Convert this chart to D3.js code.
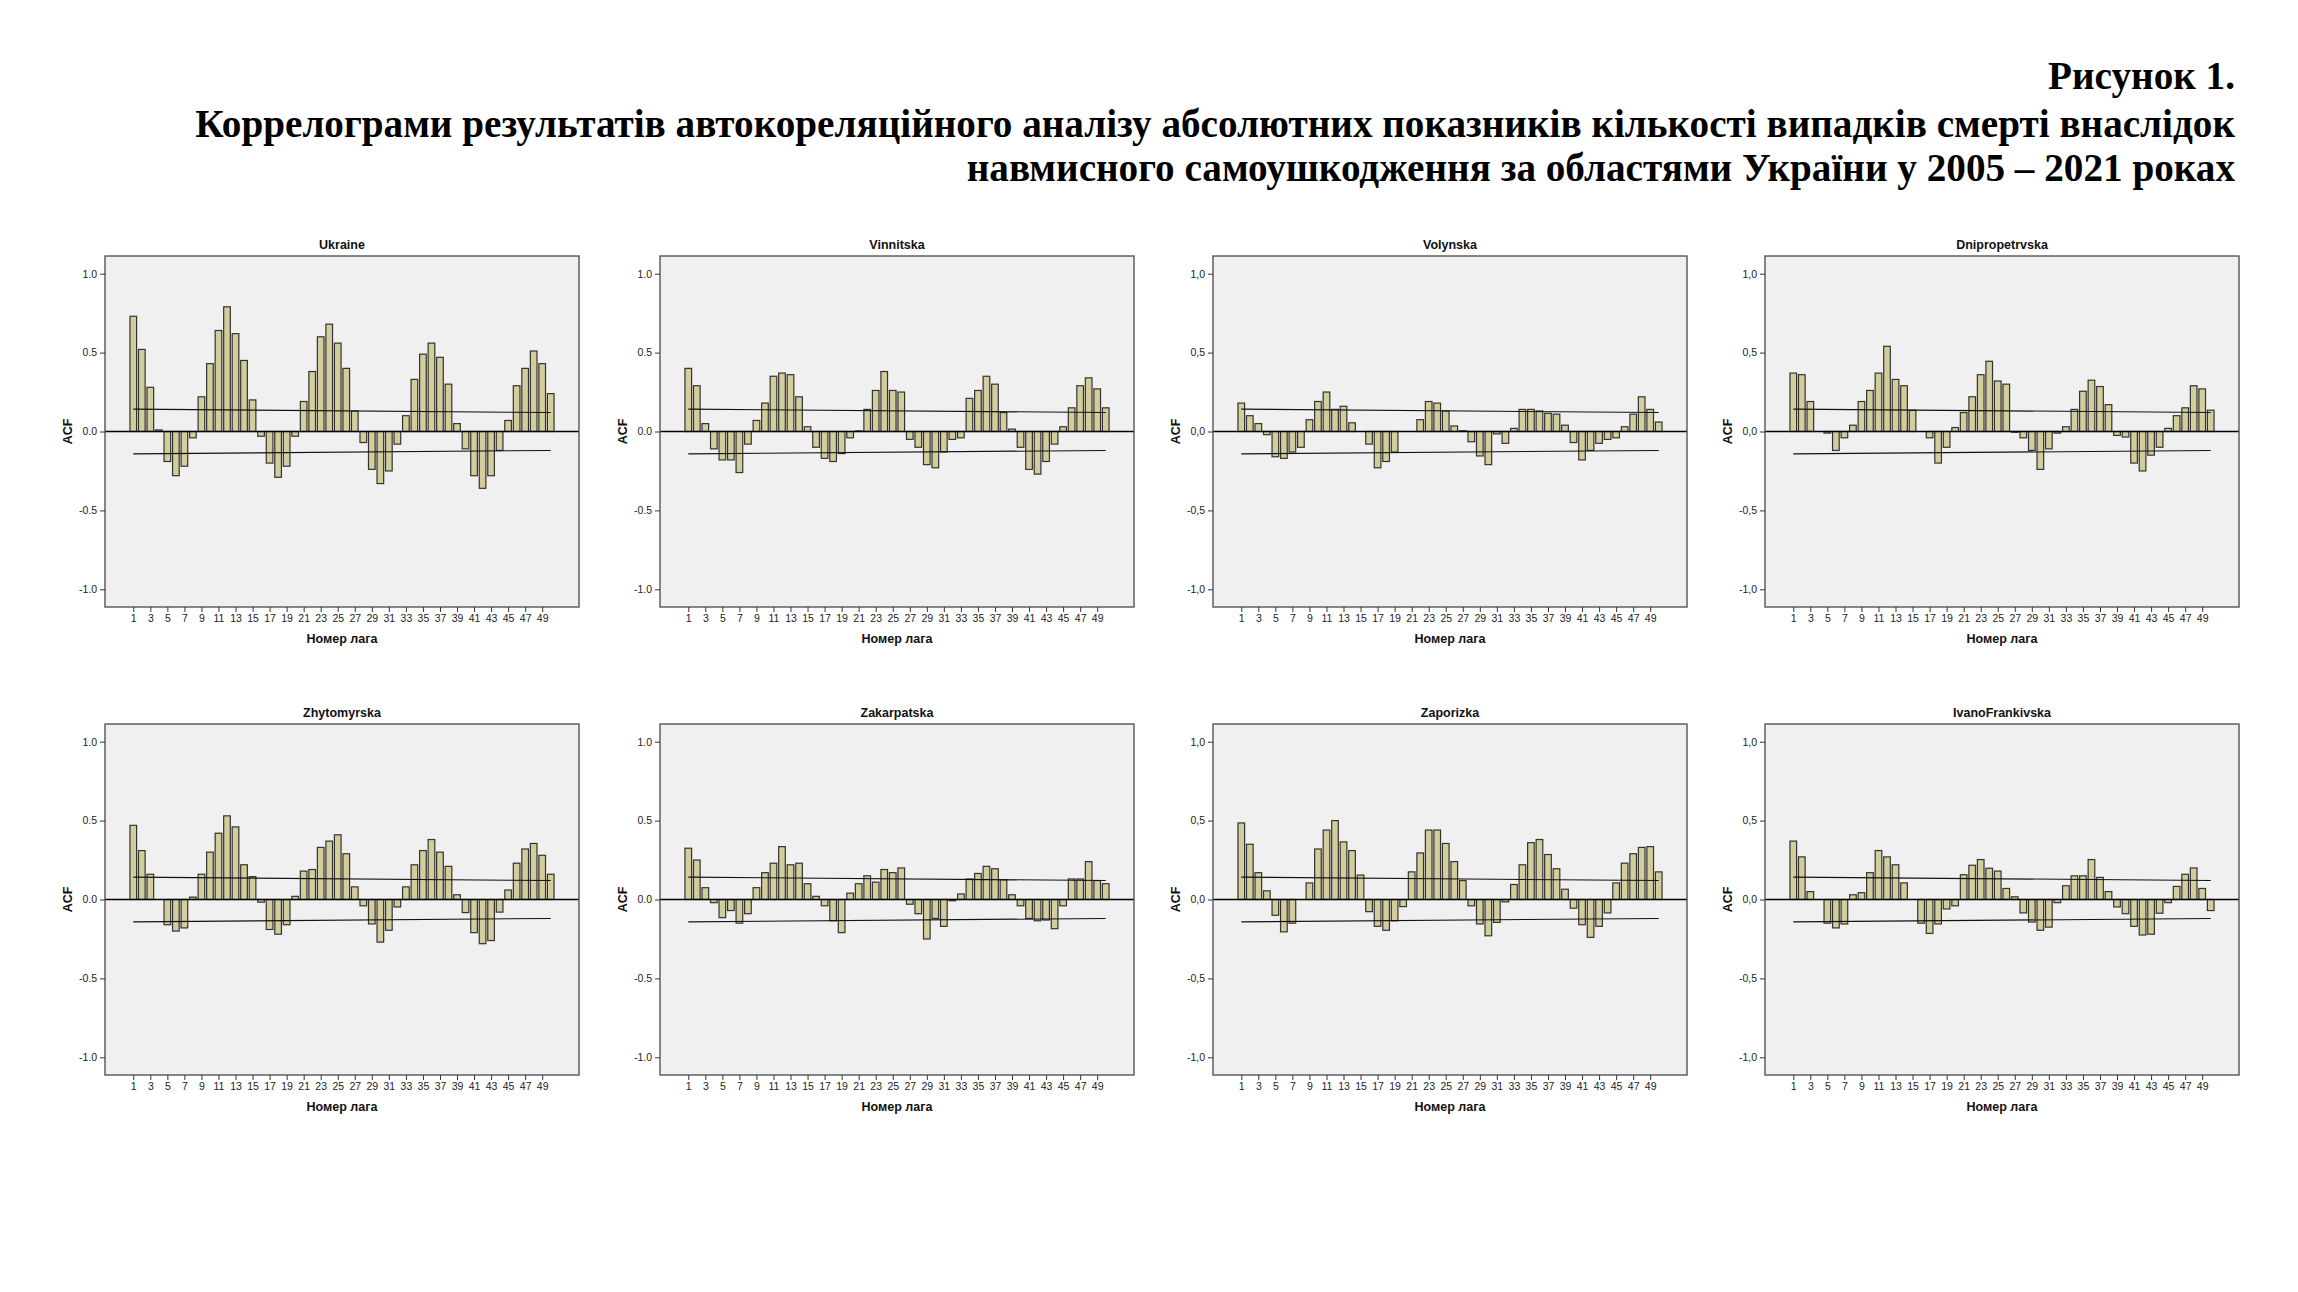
<!DOCTYPE html>
<html lang="uk">
<head>
<meta charset="UTF-8">
<title>Коррелограми ACF</title>
<style>
  body { margin: 0; background: #fff; }
  svg { display: block; }
  .title { font-family: "Liberation Serif", "Times New Roman", serif; font-weight: bold; fill: #000; }
  .ax text { font-family: "Liberation Sans", Arial, sans-serif; font-size: 10.5px; fill: #222; }
  .lbl { font-family: "Liberation Sans", Arial, sans-serif; font-weight: bold; font-size: 12.5px; fill: #111; }
</style>
<script src="https://cdn.jsdelivr.net/npm/d3@7/dist/d3.min.js"></script>
</head>
<body>
<svg id="chart" width="2298" height="1292"></svg>
<script>
// lags and tick labels
var lags = d3.range(1, 51);
var lagTicks = [1, 3, 5, 7, 9, 11, 13, 15, 17, 19, 21, 23, 25, 27, 29, 31, 33, 35, 37, 39, 41, 43, 45, 47, 49];
var yTicks = [-1, -0.5, 0, 0.5, 1];
var yLabelsDot = ["-1.0", "-0.5", "0.0", "0.5", "1.0"];
var yLabelsComma = ["-1,0", "-0,5", "0,0", "0,5", "1,0"];

// confidence limits at lag 1 and lag 50
var confLags = [1, 50];
var confUpper = [0.142, 0.120];
var confLower = [-0.142, -0.120];

// ACF values, lags 1..50
var acfUkraine = [0.73, 0.52, 0.28, 0.01, -0.19, -0.28, -0.22, -0.04, 0.22, 0.43,
  0.64, 0.79, 0.62, 0.45, 0.20, -0.03, -0.20, -0.29, -0.22, -0.03,
  0.19, 0.38, 0.60, 0.68, 0.56, 0.40, 0.13, -0.07, -0.24, -0.33,
  -0.25, -0.08, 0.10, 0.33, 0.49, 0.56, 0.47, 0.30, 0.05, -0.11,
  -0.28, -0.36, -0.28, -0.12, 0.07, 0.29, 0.40, 0.51, 0.43, 0.24];
var acfVinnitska = [0.40, 0.29, 0.05, -0.11, -0.18, -0.18, -0.26, -0.08, 0.07, 0.18,
  0.35, 0.37, 0.36, 0.22, 0.03, -0.10, -0.17, -0.19, -0.14, -0.04,
  0.004, 0.14, 0.26, 0.38, 0.26, 0.25, -0.05, -0.10, -0.21, -0.23,
  -0.13, -0.05, -0.04, 0.21, 0.26, 0.35, 0.30, 0.12, 0.015, -0.10,
  -0.24, -0.27, -0.19, -0.08, 0.03, 0.15, 0.29, 0.34, 0.27, 0.15];
var acfVolynska = [0.18, 0.10, 0.05, -0.02, -0.16, -0.17, -0.13, -0.10, 0.075, 0.19,
  0.25, 0.14, 0.16, 0.055, 0.0, -0.08, -0.23, -0.19, -0.13, 0.0,
  0.0, 0.075, 0.19, 0.18, 0.13, 0.035, 0.005, -0.065, -0.155, -0.21,
  -0.015, -0.075, 0.02, 0.14, 0.14, 0.13, 0.115, 0.11, 0.04, -0.07,
  -0.18, -0.12, -0.075, -0.05, -0.04, 0.03, 0.11, 0.22, 0.14, 0.06];
var acfDnipro = [0.37, 0.36, 0.19, 0.0, -0.01, -0.12, -0.04, 0.04, 0.19, 0.26,
  0.37, 0.54, 0.33, 0.29, 0.135, 0.0, -0.04, -0.20, -0.10, 0.025,
  0.12, 0.22, 0.36, 0.445, 0.32, 0.30, -0.005, -0.04, -0.12, -0.24,
  -0.11, -0.01, 0.03, 0.14, 0.255, 0.325, 0.285, 0.17, -0.025, -0.035,
  -0.20, -0.25, -0.15, -0.10, 0.02, 0.10, 0.15, 0.29, 0.27, 0.135];
var acfZhytomyr = [0.47, 0.31, 0.16, 0.0, -0.16, -0.20, -0.18, 0.015, 0.16, 0.30,
  0.42, 0.53, 0.46, 0.22, 0.145, -0.017, -0.19, -0.22, -0.16, 0.02,
  0.18, 0.19, 0.33, 0.37, 0.41, 0.29, 0.08, -0.04, -0.155, -0.27,
  -0.195, -0.047, 0.08, 0.22, 0.31, 0.38, 0.30, 0.21, 0.03, -0.083,
  -0.21, -0.28, -0.26, -0.08, 0.06, 0.23, 0.32, 0.355, 0.28, 0.16];
var acfZakarpattia = [0.325, 0.25, 0.075, -0.02, -0.115, -0.07, -0.15, -0.09, 0.075, 0.17,
  0.23, 0.335, 0.22, 0.23, 0.10, 0.02, -0.04, -0.135, -0.21, 0.04,
  0.10, 0.15, 0.11, 0.19, 0.17, 0.20, -0.03, -0.09, -0.25, -0.12,
  -0.17, -0.008, 0.035, 0.13, 0.165, 0.21, 0.195, 0.125, 0.03, -0.04,
  -0.12, -0.135, -0.13, -0.185, -0.04, 0.13, 0.13, 0.24, 0.12, 0.10];
var acfZaporizka = [0.485, 0.35, 0.17, 0.055, -0.10, -0.205, -0.15, 0.0, 0.105, 0.32,
  0.44, 0.50, 0.365, 0.31, 0.155, -0.077, -0.17, -0.195, -0.135, -0.045,
  0.175, 0.295, 0.44, 0.44, 0.355, 0.24, 0.12, -0.04, -0.155, -0.23,
  -0.145, -0.015, 0.095, 0.22, 0.36, 0.38, 0.285, 0.195, 0.065, -0.055,
  -0.16, -0.24, -0.17, -0.085, 0.105, 0.23, 0.29, 0.33, 0.335, 0.175];
var acfIvanoFrankivsk = [0.37, 0.27, 0.05, 0.0, -0.15, -0.18, -0.155, 0.03, 0.043, 0.17,
  0.31, 0.27, 0.22, 0.105, 0.0, -0.15, -0.215, -0.155, -0.06, -0.04,
  0.157, 0.217, 0.253, 0.198, 0.18, 0.07, 0.017, -0.085, -0.143, -0.195,
  -0.175, -0.02, 0.087, 0.15, 0.15, 0.253, 0.14, 0.05, -0.047, -0.09,
  -0.17, -0.225, -0.22, -0.087, -0.02, 0.083, 0.16, 0.20, 0.07, -0.07];

var panels = [
  { name: "Ukraine", acf: acfUkraine, labels: yLabelsDot },
  { name: "Vinnitska", acf: acfVinnitska, labels: yLabelsDot },
  { name: "Volynska", acf: acfVolynska, labels: yLabelsComma },
  { name: "Dnipropetrvska", acf: acfDnipro, labels: yLabelsComma },
  { name: "Zhytomyrska", acf: acfZhytomyr, labels: yLabelsDot },
  { name: "Zakarpatska", acf: acfZakarpattia, labels: yLabelsDot },
  { name: "Zaporizka", acf: acfZaporizka, labels: yLabelsComma },
  { name: "IvanoFrankivska", acf: acfIvanoFrankivsk, labels: yLabelsComma }
];

var svg = d3.select("#chart");

// heading, right aligned
var heading = ["Рисунок 1.",
  "Коррелограми результатів автокореляційного аналізу абсолютних показників кількості випадків смерті внаслідок",
  "навмисного самоушкодження за областями України у 2005 – 2021 роках"];
var headY = [89, 137, 181];
var head = svg.selectAll("text.title").data(heading).enter().append("text")
  .attr("class", "title")
  .attr("x", 2235).attr("y", function(d, i) { return headY[i]; })
  .attr("text-anchor", "end")
  .style("font-size", "100px")
  .text(function(d) { return d; });
// fit the long line to its width in the figure
var fs = 100 * 2040 / head.nodes()[1].getComputedTextLength();
head.style("font-size", fs + "px");

var colX = [105, 660, 1213, 1765];
var rowY = [256, 724];
var W = 474, H = 351;

panels.forEach(function(p, i) {
  var g = svg.append("g")
    .attr("transform", "translate(" + colX[i % 4] + "," + rowY[Math.floor(i / 4)] + ")");

  var x = d3.scaleLinear().domain([-2.32, 53.32]).range([0, W]);
  var y = d3.scaleLinear().domain([-1.112, 1.112]).range([H, 0]);
  var bw = (x(2) - x(1)) * 0.78;

  g.append("rect").attr("width", W).attr("height", H)
    .attr("fill", "#f0f0f0");

  g.selectAll("rect.bar").data(p.acf).enter().append("rect")
    .attr("class", "bar")
    .attr("x", function(d, k) { return x(lags[k]) - bw / 2; })
    .attr("y", function(d) { return y(Math.max(0, d)); })
    .attr("width", bw)
    .attr("height", function(d) { return Math.abs(y(d) - y(0)); })
    .attr("fill", "#d3cd9b")
    .attr("stroke", "#333")
    .attr("stroke-width", 1.2);

  // zero line
  g.append("line")
    .attr("x1", 0).attr("x2", W)
    .attr("y1", y(0)).attr("y2", y(0))
    .attr("stroke", "#000").attr("stroke-width", 1.5);

  // confidence limits
  var cl = d3.line()
    .x(function(d, k) { return x(confLags[k]); })
    .y(function(d) { return y(d); });
  [confUpper, confLower].forEach(function(c) {
    g.append("path").attr("d", cl(c))
      .attr("fill", "none").attr("stroke", "#111").attr("stroke-width", 1.1);
  });

  // frame
  g.append("rect").attr("width", W).attr("height", H)
    .attr("fill", "none").attr("stroke", "#555").attr("stroke-width", 1.4);

  // axes
  g.append("g").attr("class", "ax")
    .call(d3.axisLeft(y).tickValues(yTicks).tickSize(5).tickPadding(3)
      .tickFormat(function(d, k) { return p.labels[k]; }))
    .call(function(a) { a.select(".domain").remove(); })
    .selectAll("line").attr("stroke", "#333");

  g.append("g").attr("class", "ax")
    .attr("transform", "translate(0," + H + ")")
    .call(d3.axisBottom(x).tickValues(lagTicks).tickSize(5).tickPadding(3)
      .tickFormat(d3.format("d")))
    .call(function(a) { a.select(".domain").remove(); })
    .selectAll("line").attr("stroke", "#333");

  g.append("text").attr("class", "lbl")
    .attr("x", W / 2).attr("y", -7)
    .attr("text-anchor", "middle")
    .text(p.name);

  g.append("text").attr("class", "lbl")
    .attr("transform", "translate(-33," + (H / 2) + ") rotate(-90)")
    .attr("text-anchor", "middle")
    .text("ACF");

  g.append("text").attr("class", "lbl")
    .attr("x", W / 2).attr("y", H + 36)
    .attr("text-anchor", "middle")
    .text("Номер лага");
});
</script>
</body>
</html>
